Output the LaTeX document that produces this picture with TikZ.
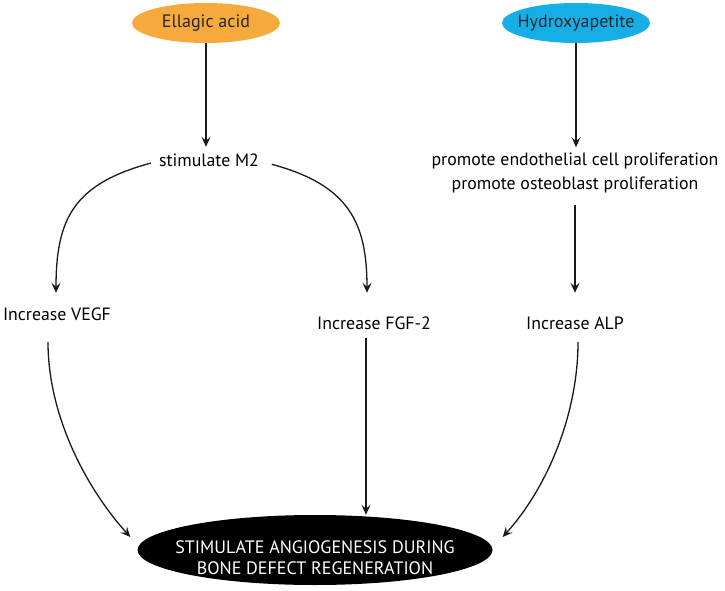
\documentclass[tikz,border=0pt]{standalone}
\usepackage{fontspec}
\setmainfont{PT Sans}
\usetikzlibrary{arrows.meta,shapes.geometric}
\definecolor{eaorange}{RGB}{247,170,60}
\definecolor{hycyan}{RGB}{22,174,231}
\tikzset{
  txt/.style={font=\fontsize{17.8}{24}\selectfont, text height=13pt, text depth=4pt, inner sep=4pt, align=center},
  twoline/.style={font=\fontsize{17.8}{24}\selectfont, inner sep=4pt, align=center},
  topell/.style={ellipse, minimum width=148pt, minimum height=40pt, inner sep=0pt},
  topfont/.style={font=\fontsize{18}{24}\selectfont, text=black!85, inner sep=0pt},
  conn/.style={line width=1.3pt, black!90, -{Stealth[length=10pt,width=9pt,inset=4pt]}},
}
\begin{document}
\begin{tikzpicture}[x=1pt,y=1pt]
\useasboundingbox (0,0) rectangle (725,590);
% nodes
\node[topell, fill=eaorange, label={[topfont]center:Ellagic acid}] (ea) at (206,567) {};
\node[topell, fill=hycyan, label={[topfont]center:Hydroxyapetite}] (hy) at (576,567) {};
\node[txt] (m2) at (209,428) {stimulate M2};
\node[twoline] (pr) at (575,417.5) {promote endothelial cell proliferation\\promote osteoblast proliferation};
\node[txt] (vegf) at (57,274) {Increase VEGF};
\node[txt] (fgf) at (374,265) {Increase FGF-2};
\node[txt] (alp) at (575,265) {Increase ALP};
\node[ellipse, fill=black, minimum width=355pt, minimum height=70pt, inner sep=0pt,
      label={[text=white, align=center, font=\fontsize{18}{21}\selectfont, yshift=-8pt]center:STIMULATE ANGIOGENESIS DURING\\BONE DEFECT REGENERATION}] (out) at (315,40) {};
% connectors
\draw[conn, shorten >=2.5pt] (ea.south) -- (ea.south |- m2.north);
\draw[conn, shorten >=1pt] (hy.south) -- (hy.south |- pr.north);
\draw[conn, shorten <=4pt, shorten >=10.5pt] (m2.west) to[out=195, in=90, looseness=1.25] ([xshift=-1pt]vegf.north);
\draw[conn, shorten <=9pt, shorten >=19.5pt] (m2.east) to[out=-15, in=90, looseness=1.25] ([xshift=-7pt]fgf.north);
\draw[conn, shorten <=8pt, shorten >=19.5pt] (pr.south) -- (alp.north);
\draw[conn] ([shift={(-9,-13.5)}]vegf.south) to[out=-90, in=132, looseness=0.85] ([shift={(-7,13)}]out.west);
\draw[conn] ([shift={(3,-4.5)}]alp.south) to[out=-90, in=48, looseness=0.85] ([shift={(10,13)}]out.east);
\draw[conn] ([xshift=-8pt]fgf.south) -- ([xshift=-8pt]fgf.south |- out.north);
\end{tikzpicture}
\end{document}
